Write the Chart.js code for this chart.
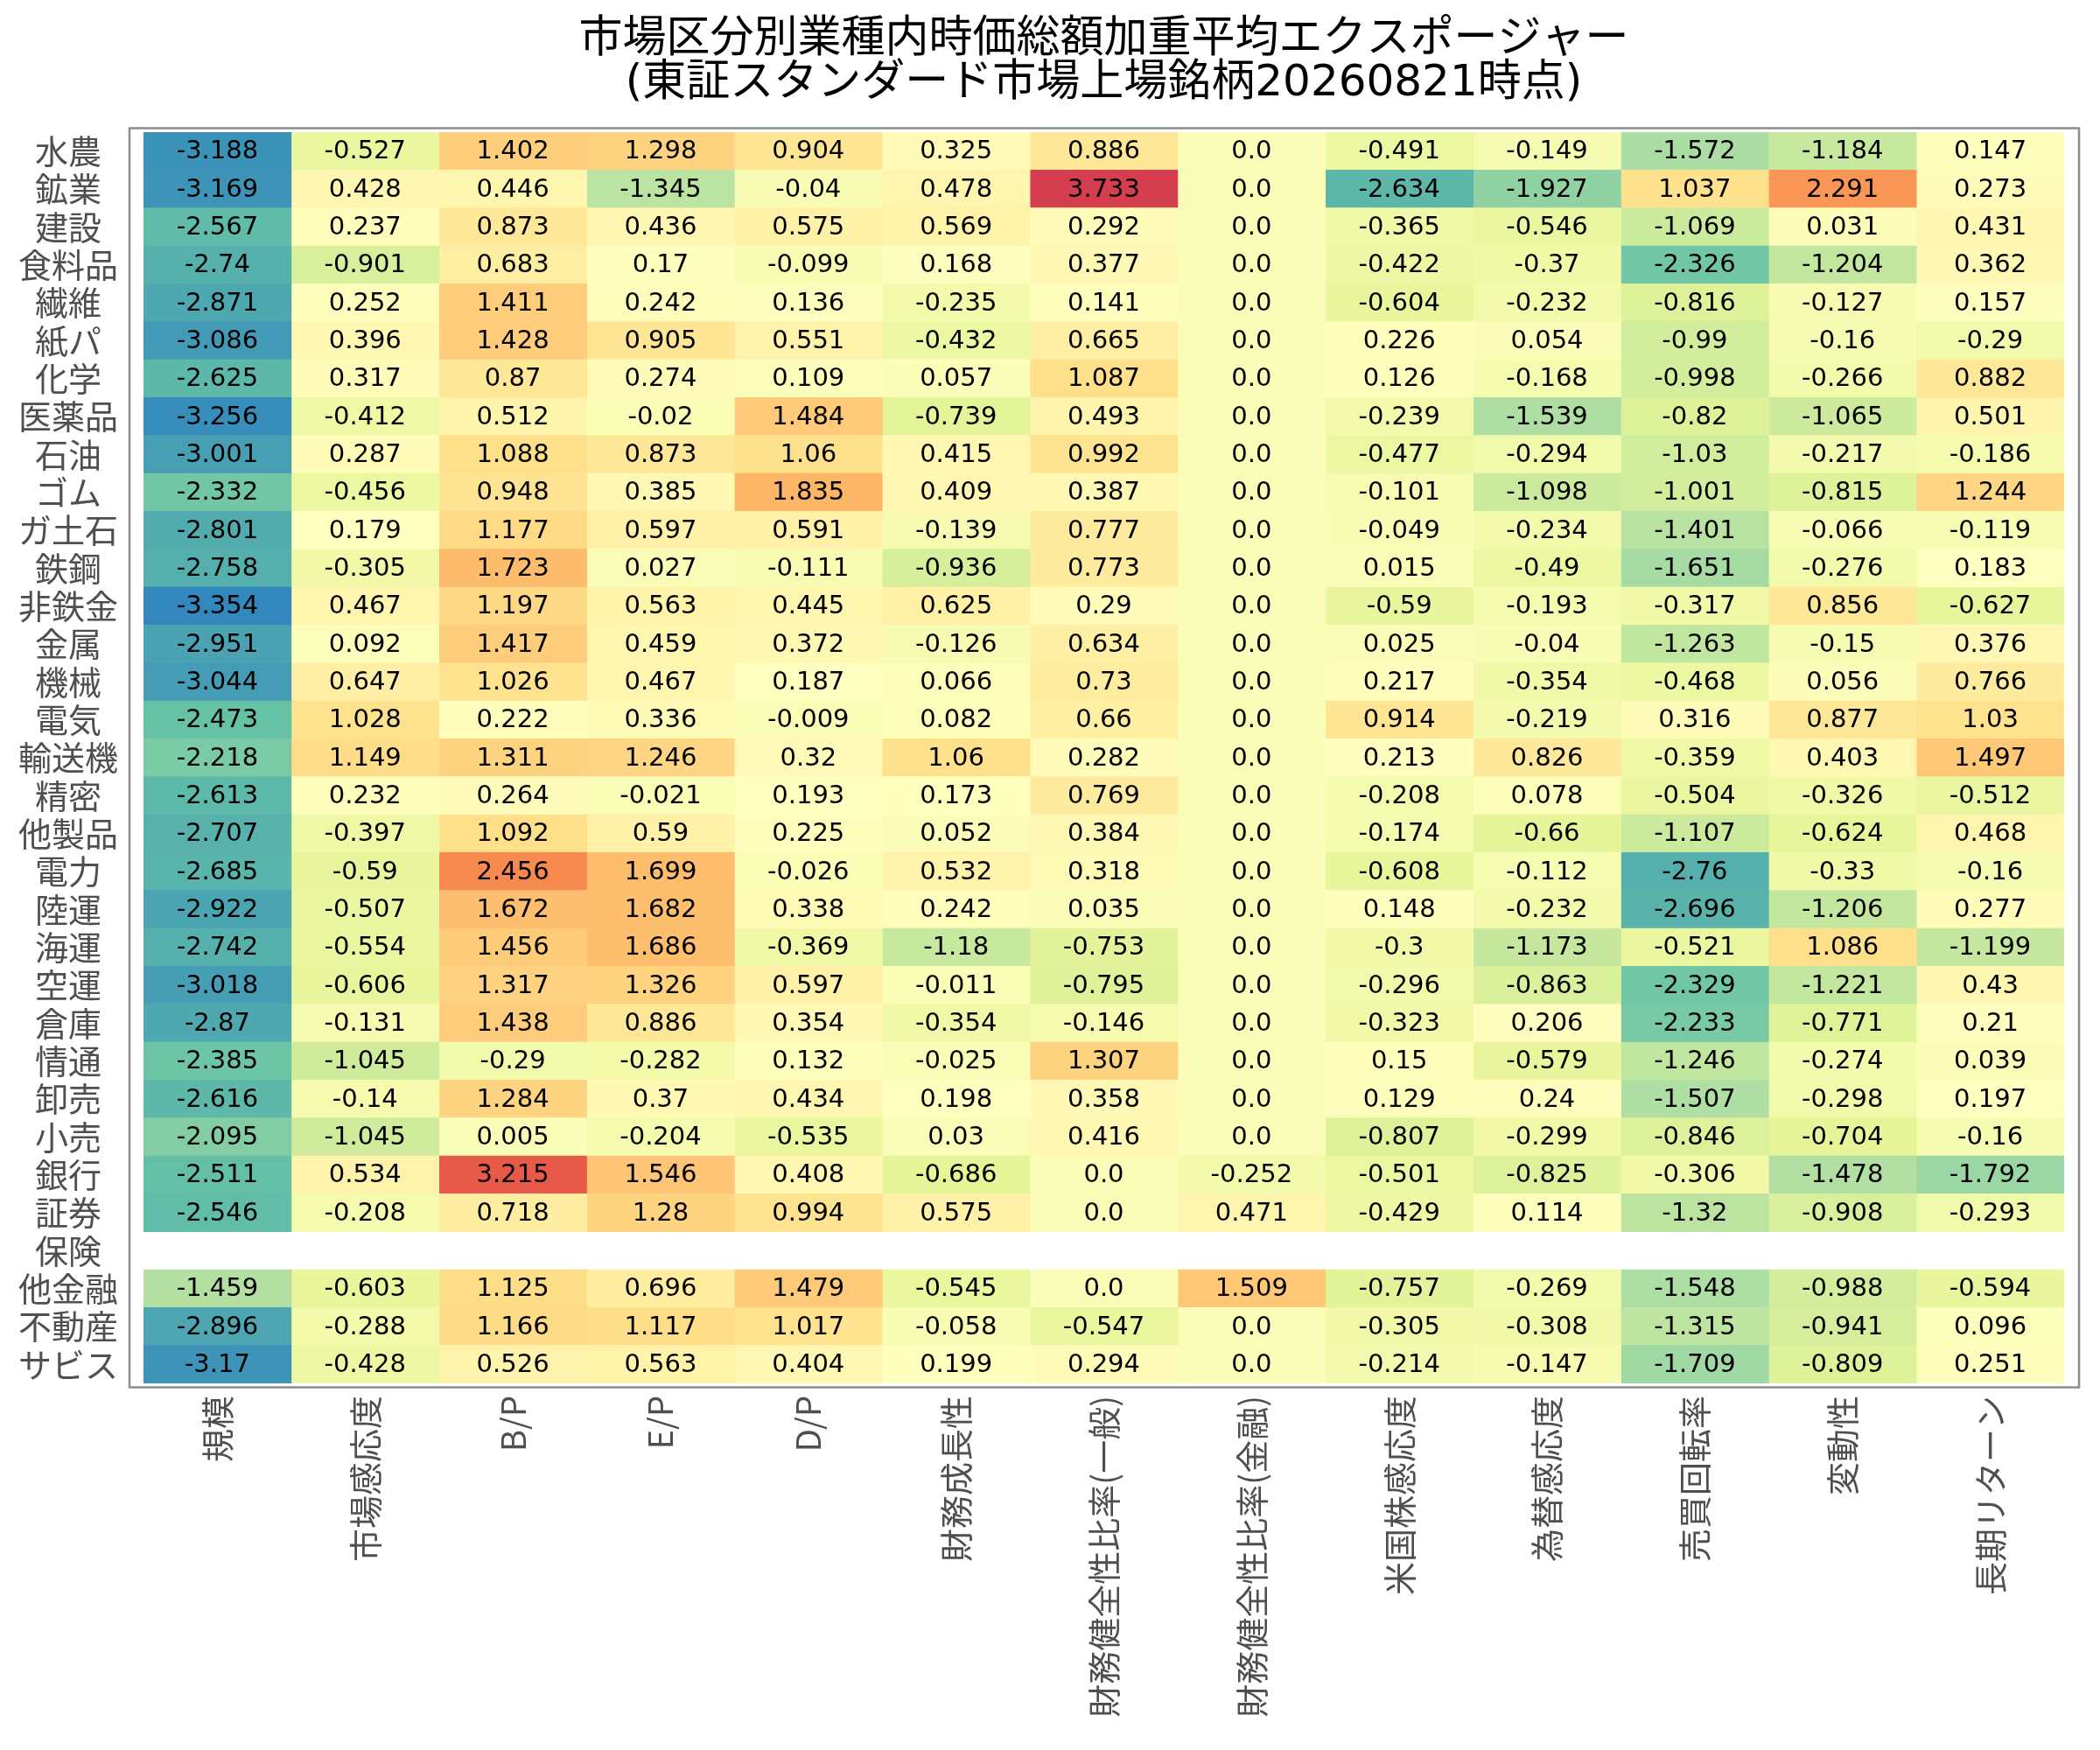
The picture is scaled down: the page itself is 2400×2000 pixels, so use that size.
<!DOCTYPE html>
<html>
<head>
<meta charset="utf-8">
<title>市場区分別業種内時価総額加重平均エクスポージャー</title>
<script src="https://cdn.jsdelivr.net/npm/chart.js@4.4.1/dist/chart.umd.min.js"></script>
<style>
  html, body { margin: 0; padding: 0; background: #fff; }
  #wrap { width: 2400px; height: 2000px; }
</style>
</head>
<body>
<div id="wrap"><canvas id="heat" width="2400" height="2000"></canvas></div>
<script>
// rows (業種) top to bottom; 保険 has no values
const sectors = ['水農', '鉱業', '建設', '食料品', '繊維', '紙パ', '化学', '医薬品', '石油', 'ゴム',
  'ガ土石', '鉄鋼', '非鉄金', '金属', '機械', '電気', '輸送機', '精密', '他製品', '電力',
  '陸運', '海運', '空運', '倉庫', '情通', '卸売', '小売', '銀行', '証券', '保険',
  '他金融', '不動産', 'サビス'];

const factors = ['規模', '市場感応度', 'B/P', 'E/P', 'D/P', '財務成長性', '財務健全性比率(一般)',
  '財務健全性比率(金融)', '米国株感応度', '為替感応度', '売買回転率', '変動性', '長期リターン'];

// one array per factor column, same order as sectors
const size = [-3.188, -3.169, -2.567, -2.74, -2.871, -3.086, -2.625, -3.256, -3.001, -2.332,
  -2.801, -2.758, -3.354, -2.951, -3.044, -2.473, -2.218, -2.613, -2.707, -2.685,
  -2.922, -2.742, -3.018, -2.87, -2.385, -2.616, -2.095, -2.511, -2.546, null,
  -1.459, -2.896, -3.17];
const marketBeta = [-0.527, 0.428, 0.237, -0.901, 0.252, 0.396, 0.317, -0.412, 0.287, -0.456,
  0.179, -0.305, 0.467, 0.092, 0.647, 1.028, 1.149, 0.232, -0.397, -0.59,
  -0.507, -0.554, -0.606, -0.131, -1.045, -0.14, -1.045, 0.534, -0.208, null,
  -0.603, -0.288, -0.428];
const bookToPrice = [1.402, 0.446, 0.873, 0.683, 1.411, 1.428, 0.87, 0.512, 1.088, 0.948,
  1.177, 1.723, 1.197, 1.417, 1.026, 0.222, 1.311, 0.264, 1.092, 2.456,
  1.672, 1.456, 1.317, 1.438, -0.29, 1.284, 0.005, 3.215, 0.718, null,
  1.125, 1.166, 0.526];
const earningsToPrice = [1.298, -1.345, 0.436, 0.17, 0.242, 0.905, 0.274, -0.02, 0.873, 0.385,
  0.597, 0.027, 0.563, 0.459, 0.467, 0.336, 1.246, -0.021, 0.59, 1.699,
  1.682, 1.686, 1.326, 0.886, -0.282, 0.37, -0.204, 1.546, 1.28, null,
  0.696, 1.117, 0.563];
const dividendToPrice = [0.904, -0.04, 0.575, -0.099, 0.136, 0.551, 0.109, 1.484, 1.06, 1.835,
  0.591, -0.111, 0.445, 0.372, 0.187, -0.009, 0.32, 0.193, 0.225, -0.026,
  0.338, -0.369, 0.597, 0.354, 0.132, 0.434, -0.535, 0.408, 0.994, null,
  1.479, 1.017, 0.404];
const growth = [0.325, 0.478, 0.569, 0.168, -0.235, -0.432, 0.057, -0.739, 0.415, 0.409,
  -0.139, -0.936, 0.625, -0.126, 0.066, 0.082, 1.06, 0.173, 0.052, 0.532,
  0.242, -1.18, -0.011, -0.354, -0.025, 0.198, 0.03, -0.686, 0.575, null,
  -0.545, -0.058, 0.199];
const leverageGeneral = [0.886, 3.733, 0.292, 0.377, 0.141, 0.665, 1.087, 0.493, 0.992, 0.387,
  0.777, 0.773, 0.29, 0.634, 0.73, 0.66, 0.282, 0.769, 0.384, 0.318,
  0.035, -0.753, -0.795, -0.146, 1.307, 0.358, 0.416, 0.0, 0.0, null,
  0.0, -0.547, 0.294];
const leverageFinancial = [0.0, 0.0, 0.0, 0.0, 0.0, 0.0, 0.0, 0.0, 0.0, 0.0,
  0.0, 0.0, 0.0, 0.0, 0.0, 0.0, 0.0, 0.0, 0.0, 0.0,
  0.0, 0.0, 0.0, 0.0, 0.0, 0.0, 0.0, -0.252, 0.471, null,
  1.509, 0.0, 0.0];
const usBeta = [-0.491, -2.634, -0.365, -0.422, -0.604, 0.226, 0.126, -0.239, -0.477, -0.101,
  -0.049, 0.015, -0.59, 0.025, 0.217, 0.914, 0.213, -0.208, -0.174, -0.608,
  0.148, -0.3, -0.296, -0.323, 0.15, 0.129, -0.807, -0.501, -0.429, null,
  -0.757, -0.305, -0.214];
const fxBeta = [-0.149, -1.927, -0.546, -0.37, -0.232, 0.054, -0.168, -1.539, -0.294, -1.098,
  -0.234, -0.49, -0.193, -0.04, -0.354, -0.219, 0.826, 0.078, -0.66, -0.112,
  -0.232, -1.173, -0.863, 0.206, -0.579, 0.24, -0.299, -0.825, 0.114, null,
  -0.269, -0.308, -0.147];
const turnover = [-1.572, 1.037, -1.069, -2.326, -0.816, -0.99, -0.998, -0.82, -1.03, -1.001,
  -1.401, -1.651, -0.317, -1.263, -0.468, 0.316, -0.359, -0.504, -1.107, -2.76,
  -2.696, -0.521, -2.329, -2.233, -1.246, -1.507, -0.846, -0.306, -1.32, null,
  -1.548, -1.315, -1.709];
const volatility = [-1.184, 2.291, 0.031, -1.204, -0.127, -0.16, -0.266, -1.065, -0.217, -0.815,
  -0.066, -0.276, 0.856, -0.15, 0.056, 0.877, 0.403, -0.326, -0.624, -0.33,
  -1.206, 1.086, -1.221, -0.771, -0.274, -0.298, -0.704, -1.478, -0.908, null,
  -0.988, -0.941, -0.809];
const momentum = [0.147, 0.273, 0.431, 0.362, 0.157, -0.29, 0.882, 0.501, -0.186, 1.244,
  -0.119, 0.183, -0.627, 0.376, 0.766, 1.03, 1.497, -0.512, 0.468, -0.16,
  0.277, -1.199, 0.43, 0.21, 0.039, 0.197, -0.16, -1.792, -0.293, null,
  -0.594, 0.096, 0.251];

const columns = [size, marketBeta, bookToPrice, earningsToPrice, dividendToPrice, growth,
  leverageGeneral, leverageFinancial, usBeta, fxBeta, turnover, volatility, momentum];

// Spectral_r, only the 0.1 .. 0.9 part of it is used
const spectralR = ['#5e4fa2', '#3288bd', '#66c2a5', '#abdda4', '#e6f598', '#ffffbf',
  '#fee08b', '#fdae61', '#f46d43', '#d53e4f', '#9e0142'];

const allValues = columns.flat().filter(v => v !== null);
const vmin = Math.min(...allValues);
const vmax = Math.max(...allValues);

function hexToRgb(h) {
    return [1, 3, 5].map(i => parseInt(h.slice(i, i + 2), 16));
}

function colorFor(v) {
    if (v === null) return 'rgba(0,0,0,0)';
    let t = 0.1 + 0.8 * (v - vmin) / (vmax - vmin);
    let p = t * 10;
    let i = Math.min(Math.floor(p), 9);
    let f = p - i;
    let a = hexToRgb(spectralR[i]), b = hexToRgb(spectralR[i + 1]);
    let c = a.map((x, k) => Math.round(x + (b[k] - x) * f));
    return 'rgb(' + c.join(',') + ')';
}

function fmt(v) {
    return Number.isInteger(v) ? v.toFixed(1) : String(v);
}

const labelFont = '"Noto Sans CJK JP", "DejaVu Sans", sans-serif';

// numbers in the middle of every cell
const cellText = {
    id: 'cellText',
    afterDatasetsDraw(chart) {
        const ctx = chart.ctx;
        ctx.save();
        ctx.font = '29px "DejaVu Sans"';
        ctx.fillStyle = '#000';
        ctx.textAlign = 'center';
        ctx.textBaseline = 'middle';
        columns.forEach((col, c) => {
            chart.getDatasetMeta(c).data.forEach((bar, r) => {
                if (col[r] === null) return;
                const p = bar.getProps(['x', 'base', 'y'], true);
                ctx.fillText(fmt(col[r]), (p.x + p.base) / 2, p.y + 1);
            });
        });
        ctx.restore();
    }
};

// gray axes frame a little outside the cells
const frame = {
    id: 'frame',
    afterDraw(chart) {
        const a = chart.chartArea;
        const ctx = chart.ctx;
        ctx.save();
        ctx.strokeStyle = '#8c8c8c';
        ctx.lineWidth = 2.5;
        ctx.strokeRect(a.left - 16, a.top - 4.5, a.right - a.left + 33, a.bottom - a.top + 9);
        ctx.restore();
    }
};

new Chart('heat', {
    type: 'bar',
    data: {
        labels: sectors,
        datasets: columns.map((col, c) => ({
            label: factors[c],
            data: col.map(v => v === null ? null : [c, c + 1]),
            backgroundColor: col.map(colorFor),
            borderWidth: 0,
            barPercentage: 1,
            categoryPercentage: 1,
            grouped: false
        }))
    },
    options: {
        indexAxis: 'y',
        responsive: false,
        devicePixelRatio: 1,
        animation: false,
        layout: { padding: { left: 0, right: 41, top: 0, bottom: 0 } },
        plugins: {
            legend: { display: false },
            tooltip: { enabled: false },
            title: {
                display: true,
                fullSize: false,
                text: ['市場区分別業種内時価総額加重平均エクスポージャー', '(東証スタンダード市場上場銘柄20260821時点)'],
                color: '#000',
                font: { family: '"DejaVu Sans", "Noto Sans CJK JP", sans-serif', size: 50, weight: 'normal', lineHeight: 1.0 },
                padding: { top: 21, bottom: 30 }
            }
        },
        scales: {
            x: {
                type: 'linear',
                min: 0,
                max: factors.length,
                grid: { display: false, drawTicks: false },
                border: { display: false },
                afterBuildTicks: axis => {
                    axis.ticks = factors.map((f, i) => ({ value: i + 0.5 }));
                },
                afterFit: axis => { axis.height = 419; },
                ticks: {
                    autoSkip: false,
                    minRotation: 90,
                    maxRotation: 90,
                    padding: 14,
                    color: '#4f4f4f',
                    font: { family: labelFont, size: 38, lineHeight: 1.0 },
                    callback: (v, i) => factors[i]
                }
            },
            y: {
                type: 'category',
                grid: { display: false, drawTicks: false },
                border: { display: false },
                afterFit: axis => { axis.width = 164; },
                ticks: {
                    autoSkip: false,
                    crossAlign: 'center',
                    padding: 29,
                    color: '#4f4f4f',
                    font: { family: labelFont, size: 38, lineHeight: 1.0 }
                }
            }
        }
    },
    plugins: [cellText, frame]
});
</script>
</body>
</html>
